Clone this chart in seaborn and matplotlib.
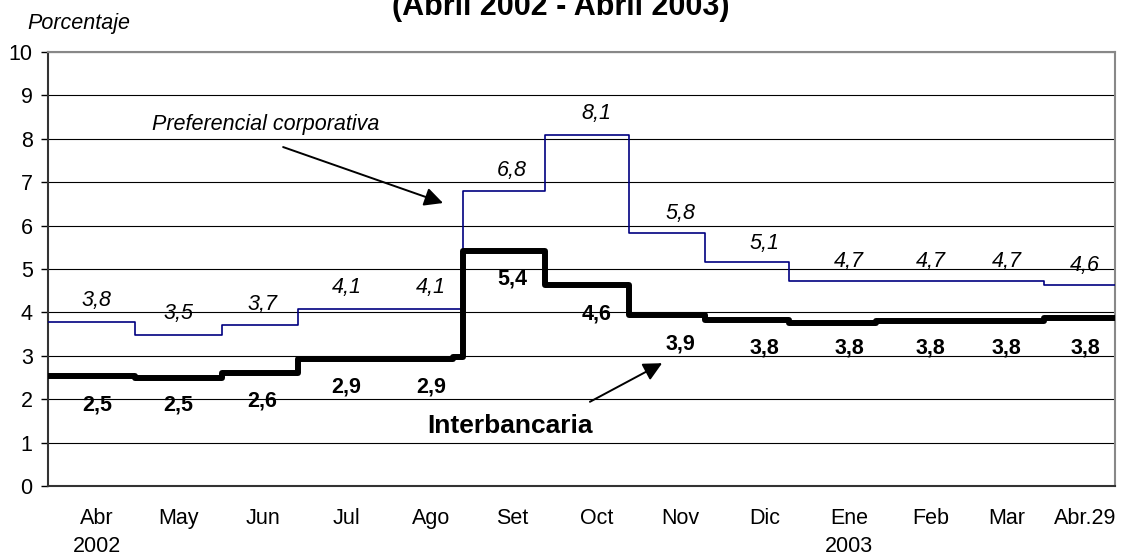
import matplotlib
matplotlib.use("Agg")
import matplotlib.pyplot as plt
import pandas as pd
import seaborn as sns

# Tasas diarias: solo los dias en que cambia el nivel (ultimo punto = fin de serie)
inter_fechas = ["2002-04-01", "2002-05-03", "2002-06-04", "2002-07-02", "2002-08-28",
                "2002-09-01", "2002-10-01", "2002-11-01", "2002-11-29", "2002-12-30",
                "2003-01-31", "2003-04-03", "2003-04-29"]
inter_tasas = [2.53, 2.48, 2.61, 2.92, 2.98, 5.41, 4.64, 3.94, 3.82, 3.76, 3.81, 3.86, 3.86]

pref_fechas = ["2002-04-01", "2002-05-03", "2002-06-04", "2002-07-02", "2002-09-01",
               "2002-10-01", "2002-11-01", "2002-11-29", "2002-12-30", "2003-04-03",
               "2003-04-29"]
pref_tasas = [3.77, 3.48, 3.72, 4.08, 6.80, 8.09, 5.83, 5.15, 4.73, 4.63, 4.63]

# Promedios mensuales (etiquetas) y eje
meses = ["Abr\n2002", "May", "Jun", "Jul", "Ago", "Set", "Oct", "Nov", "Dic",
         "Ene\n2003", "Feb", "Mar", "Abr.29"]
meses_fechas = ["2002-04-19", "2002-05-19", "2002-06-19", "2002-07-20", "2002-08-20",
                "2002-09-19", "2002-10-20", "2002-11-20", "2002-12-21", "2003-01-21",
                "2003-02-20", "2003-03-20", "2003-04-18"]
pref_prom = [3.8, 3.5, 3.7, 4.1, 4.1, 6.8, 8.1, 5.8, 5.1, 4.7, 4.7, 4.7, 4.6]
inter_prom = [2.5, 2.5, 2.6, 2.9, 2.9, 5.4, 4.6, 3.9, 3.8, 3.8, 3.8, 3.8, 3.8]

inicio = pd.Timestamp("2002-04-01")
fin = pd.Timestamp("2003-04-29")


def dias(fechas):
    return (pd.to_datetime(fechas) - inicio).days.to_numpy()


df_inter = pd.DataFrame({"dia": dias(inter_fechas), "tasa": inter_tasas})
df_pref = pd.DataFrame({"dia": dias(pref_fechas), "tasa": pref_tasas})
x_meses = dias(meses_fechas)

sns.set_style("white")
plt.rcParams["font.family"] = ["Liberation Sans", "DejaVu Sans"]
plt.rcParams["text.color"] = "black"
plt.rcParams["xtick.color"] = "black"
plt.rcParams["ytick.color"] = "black"

fig = plt.figure(figsize=(11.32, 5.56), dpi=100)
ax = fig.add_axes([48 / 1132, 70 / 556, 1067 / 1132, 434 / 556])

sns.lineplot(data=df_pref, x="dia", y="tasa", ax=ax, color="#000080", lw=1.2,
             drawstyle="steps-post", estimator=None, zorder=3)
sns.lineplot(data=df_inter, x="dia", y="tasa", ax=ax, color="black", lw=4.3,
             drawstyle="steps-post", estimator=None, zorder=3)

ax.set_xlim(0, (fin - inicio).days)
ax.set_ylim(0, 10)
ax.set_yticks(range(0, 11))
ax.set_xticks(x_meses)
ax.set_xticklabels(meses, fontsize=15.5, linespacing=1.45)
ax.tick_params(axis="y", labelsize=15.5, length=5, width=1, direction="out",
               pad=6, left=True, colors="black")
ax.tick_params(axis="x", length=0, pad=16, colors="black")
ax.set_xlabel("")
ax.set_ylabel("")
ax.set_axisbelow(True)
ax.grid(axis="y", color="black", lw=0.8)
ax.grid(axis="x", visible=False)

for lado in ["top", "right"]:
    ax.spines[lado].set_color("#888888")
    ax.spines[lado].set_linewidth(1.5)
for lado in ["left", "bottom"]:
    ax.spines[lado].set_color("#333333")
    ax.spines[lado].set_linewidth(1.5)

# etiquetas de promedios mensuales
for x, v in zip(x_meses, pref_prom):
    ax.text(x, v + 0.48, f"{v:.1f}".replace(".", ","), ha="center", va="center",
            style="italic", fontsize=15.5, color="black")
for x, v in zip(x_meses, inter_prom):
    ax.text(x, v - 0.63, f"{v:.1f}".replace(".", ","), ha="center", va="center",
            fontweight="bold", fontsize=15.5, color="black")

flecha = dict(arrowstyle="-|>", color="black", lw=1.4, mutation_scale=28,
              shrinkA=0, shrinkB=0)
ax.text(80, 8.34, "Preferencial corporativa", ha="center", va="center",
        style="italic", fontsize=15.5, color="black")
ax.annotate("", xy=(145.5, 6.52), xytext=(86.6, 7.81), arrowprops=flecha)
ax.text(170, 1.38, "Interbancaria", ha="center", va="center",
        fontweight="bold", fontsize=19, color="black")
ax.annotate("", xy=(226.2, 2.83), xytext=(199.6, 1.94), arrowprops=flecha)

fig.text(27 / 1132, 1 - 23 / 556, "Porcentaje", ha="left", va="center",
         style="italic", fontsize=15.5, color="black")
# el titulo aparece cortado en el borde superior, como en el original
fig.text(561 / 1132, 1 - 15 / 556, "(Abril 2002 - Abril 2003)", ha="center",
         va="baseline", fontweight="bold", fontsize=22, color="black")

fig.savefig("out.png", dpi=100)
